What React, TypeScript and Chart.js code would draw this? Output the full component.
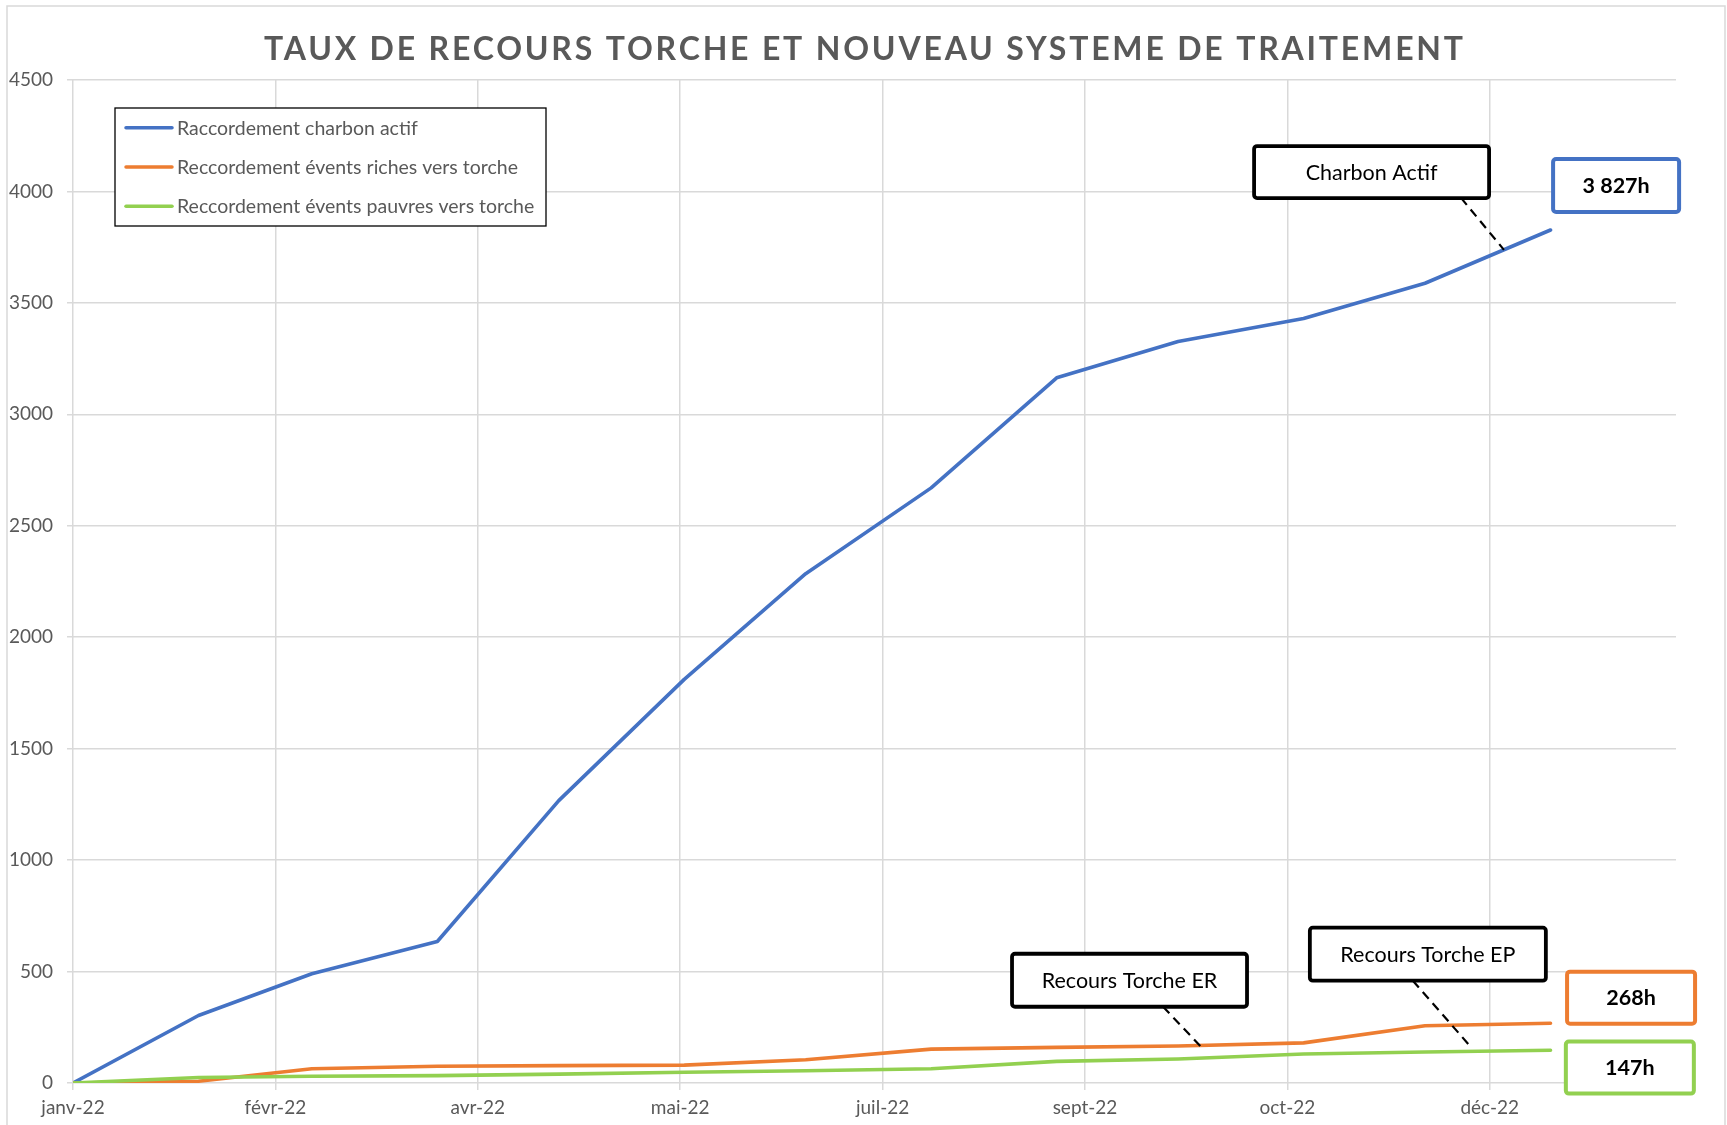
import { useEffect, useRef } from "react";
import { Chart, registerables } from "chart.js";

Chart.register(...registerables);

// ---------- DATA ----------
const pointDates = [
  "2022-01-01", "2022-02-01", "2022-03-01", "2022-04-01", "2022-05-01",
  "2022-06-01", "2022-07-01", "2022-08-01", "2022-09-01", "2022-10-01",
  "2022-11-01", "2022-12-01", "2023-01-01",
];
const charbonActif = [0, 303, 490, 635, 1267, 1811, 2285, 2670, 3164, 3327, 3430, 3588, 3827];
const eventsRiches = [0, 8, 64, 75, 78, 80, 104, 152, 160, 166, 180, 257, 268];
const eventsPauvres = [0, 25, 30, 33, 40, 48, 55, 64, 97, 108, 130, 139, 147];
const seriesLabels = [
  "Raccordement charbon actif",
  "Reccordement évents riches vers torche",
  "Reccordement évents pauvres vers torche",
];
const seriesColors = ["#4472C4", "#ED7D31", "#92D050"];
const xTickDays = [0, 50, 100, 150, 200, 250, 300, 350];
const xTickLabels = ["janv-22", "févr-22", "avr-22", "mai-22", "juil-22", "sept-22", "oct-22", "déc-22"];
const yMax = 4500;
const yStep = 500;
const xMaxDays = 396;
const chartTitle = "TAUX DE RECOURS TORCHE ET NOUVEAU SYSTEME DE TRAITEMENT";
const calloutLabels = ["Charbon Actif", "Recours Torche ER", "Recours Torche EP"];

// ---------- helpers ----------
const DAY0 = Date.UTC(2022, 0, 1);
const toDay = (s: string) => {
  const [y, m, d] = s.split("-").map(Number);
  return (Date.UTC(y, m - 1, d) - DAY0) / 86400000;
};
const fmtHours = (v: number) => String(v).replace(/\B(?=(\d{3})+(?!\d))/g, " ") + "h";

const FONT = "Lato, 'Open Sans', sans-serif";
const GRAY = "#595959";

// annotation geometry in data units (day, value); sizes in px
const callouts = [
  { text: calloutLabels[0], cx: 320.8, cy: 4087, w: 235, h: 52, from: [342.9, 3971], to: [353.5, 3738] },
  { text: calloutLabels[1], cx: 261.0, cy: 461, w: 235, h: 53, from: [269.3, 342], to: [278.9, 158] },
  { text: calloutLabels[2], cx: 334.7, cy: 578, w: 236, h: 53, from: [331.0, 459], to: [345.4, 160] },
];
const valueBoxes = [
  { series: 0, cx: 381.2, cy: 4027, w: 126, h: 53 },
  { series: 1, cx: 384.9, cy: 383, w: 128, h: 52 },
  { series: 2, cx: 384.6, cy: 69, w: 128, h: 52 },
];
const seriesData = [charbonActif, eventsRiches, eventsPauvres];

const decorPlugin = {
  id: "decor",
  afterDraw(chart: any) {
    const ctx: CanvasRenderingContext2D = chart.ctx;
    const xs = chart.scales.x;
    const ys = chart.scales.y;
    const px = (d: number) => xs.getPixelForValue(d);
    const py = (v: number) => ys.getPixelForValue(v);
    ctx.save();

    // outer border
    ctx.strokeStyle = "#d9d9d9";
    ctx.lineWidth = 1.5;
    ctx.strokeRect(7, 6, 1718, 1200);

    // title with letter spacing
    ctx.font = `bold 32px ${FONT}`;
    ctx.fillStyle = GRAY;
    ctx.textAlign = "left";
    ctx.textBaseline = "alphabetic";
    (ctx as any).letterSpacing = "0px";
    const w0 = ctx.measureText(chartTitle).width;
    const target = 1199;
    const sp = Math.max(0, (target - w0) / (chartTitle.length - 1));
    (ctx as any).letterSpacing = sp + "px";
    ctx.fillText(chartTitle, 863.5 - target / 2, 59.5);
    (ctx as any).letterSpacing = "0px";

    // legend
    ctx.fillStyle = "#ffffff";
    ctx.fillRect(115, 108, 431, 118);
    ctx.strokeStyle = "#000000";
    ctx.lineWidth = 1.3;
    ctx.strokeRect(115, 108, 431, 118);
    ctx.font = `19.5px ${FONT}`;
    chart.data.datasets.forEach((ds: any, i: number) => {
      const yl = 127.7 + i * 39.3;
      ctx.strokeStyle = ds.borderColor;
      ctx.lineWidth = 3.5;
      ctx.lineCap = "round";
      ctx.beginPath();
      ctx.moveTo(126, yl);
      ctx.lineTo(172, yl);
      ctx.stroke();
      ctx.fillStyle = GRAY;
      ctx.fillText(ds.label, 177, yl + 6.8);
    });

    // callouts
    ctx.lineCap = "butt";
    callouts.forEach((c) => {
      ctx.strokeStyle = "#000";
      ctx.lineWidth = 2.2;
      ctx.setLineDash([9, 6]);
      ctx.beginPath();
      ctx.moveTo(px(c.from[0]), py(c.from[1]));
      ctx.lineTo(px(c.to[0]), py(c.to[1]));
      ctx.stroke();
      ctx.setLineDash([]);
      const x0 = px(c.cx) - c.w / 2;
      const y0 = py(c.cy) - c.h / 2;
      ctx.beginPath();
      (ctx as any).roundRect(x0, y0, c.w, c.h, 3);
      ctx.fillStyle = "#fff";
      ctx.fill();
      ctx.lineWidth = 3.8;
      ctx.strokeStyle = "#000";
      ctx.stroke();
      ctx.fillStyle = "#000";
      ctx.font = `21.5px ${FONT}`;
      ctx.textAlign = "center";
      ctx.fillText(c.text, px(c.cx), py(c.cy) + 8);
    });

    // value boxes
    valueBoxes.forEach((b) => {
      const vals = seriesData[b.series];
      const x0 = px(b.cx) - b.w / 2;
      const y0 = py(b.cy) - b.h / 2;
      ctx.beginPath();
      (ctx as any).roundRect(x0, y0, b.w, b.h, 3);
      ctx.fillStyle = "#fff";
      ctx.fill();
      ctx.lineWidth = 4;
      ctx.strokeStyle = seriesColors[b.series];
      ctx.stroke();
      ctx.fillStyle = "#000";
      ctx.font = `bold 21.5px ${FONT}`;
      ctx.textAlign = "center";
      ctx.fillText(fmtHours(vals[vals.length - 1]), px(b.cx), py(b.cy) + 7.5);
    });

    ctx.restore();
  },
};

export default function App() {
  const ref = useRef<HTMLCanvasElement>(null);

  useEffect(() => {
    document.body.style.margin = "0";
    document.body.style.overflow = "hidden";
    let chart: Chart | null = null;
    let cancelled = false;
    const days = pointDates.map(toDay);
    const mk = (vals: number[]) => vals.map((v, i) => ({ x: days[i], y: v }));

    const ready = Promise.all([
      document.fonts.load(`18px Lato`),
      document.fonts.load(`bold 32px Lato`),
    ]).catch(() => undefined);

    ready.then(() => {
      if (cancelled || !ref.current) return;
      chart = new Chart(ref.current, {
        type: "line",
        data: {
          datasets: seriesData.map((vals, i) => ({
            label: seriesLabels[i],
            data: mk(vals),
            borderColor: seriesColors[i],
            backgroundColor: seriesColors[i],
            borderWidth: 3.6,
            pointRadius: 0,
            tension: 0,
            borderJoinStyle: "round" as const,
            borderCapStyle: "round" as const,
            order: i === 2 ? 0 : i === 1 ? 1 : 2,
          })),
        },
        options: {
          responsive: false,
          animation: false,
          devicePixelRatio: 1,
          layout: { padding: { top: 80, right: 51, left: 0, bottom: 0 } },
          plugins: {
            legend: { display: false },
            title: { display: false },
            tooltip: { enabled: false },
          },
          scales: {
            x: {
              type: "linear",
              min: 0,
              max: xMaxDays,
              afterBuildTicks: (axis: any) => {
                axis.ticks = xTickDays.map((v) => ({ value: v }));
              },
              afterFit: (scale: any) => {
                scale.height = 42;
              },
              grid: { color: "#d9d9d9", lineWidth: 1.5, tickLength: 7, tickColor: "#d9d9d9" },
              border: { display: false },
              ticks: {
                autoSkip: false,
                maxRotation: 0,
                padding: 6,
                color: GRAY,
                font: { family: FONT, size: 19 },
                callback: (v: any) => {
                  const idx = xTickDays.indexOf(Number(v));
                  return idx >= 0 ? xTickLabels[idx] : "";
                },
              },
            },
            y: {
              min: 0,
              max: yMax,
              afterFit: (scale: any) => {
                scale.width = 73;
              },
              grid: { color: "#d9d9d9", lineWidth: 1.5, tickLength: 6, tickColor: "#d9d9d9" },
              border: { display: false },
              ticks: {
                stepSize: yStep,
                padding: 14,
                color: GRAY,
                font: { family: FONT, size: 19 },
                callback: (v: any) => String(v),
              },
            },
          },
        },
        plugins: [decorPlugin],
      } as any);
    });

    return () => {
      cancelled = true;
      if (chart) chart.destroy();
    };
  }, []);

  return (
    <canvas
      ref={ref}
      width={1727}
      height={1125}
      style={{ display: "block", width: 1727, height: 1125 }}
    />
  );
}
